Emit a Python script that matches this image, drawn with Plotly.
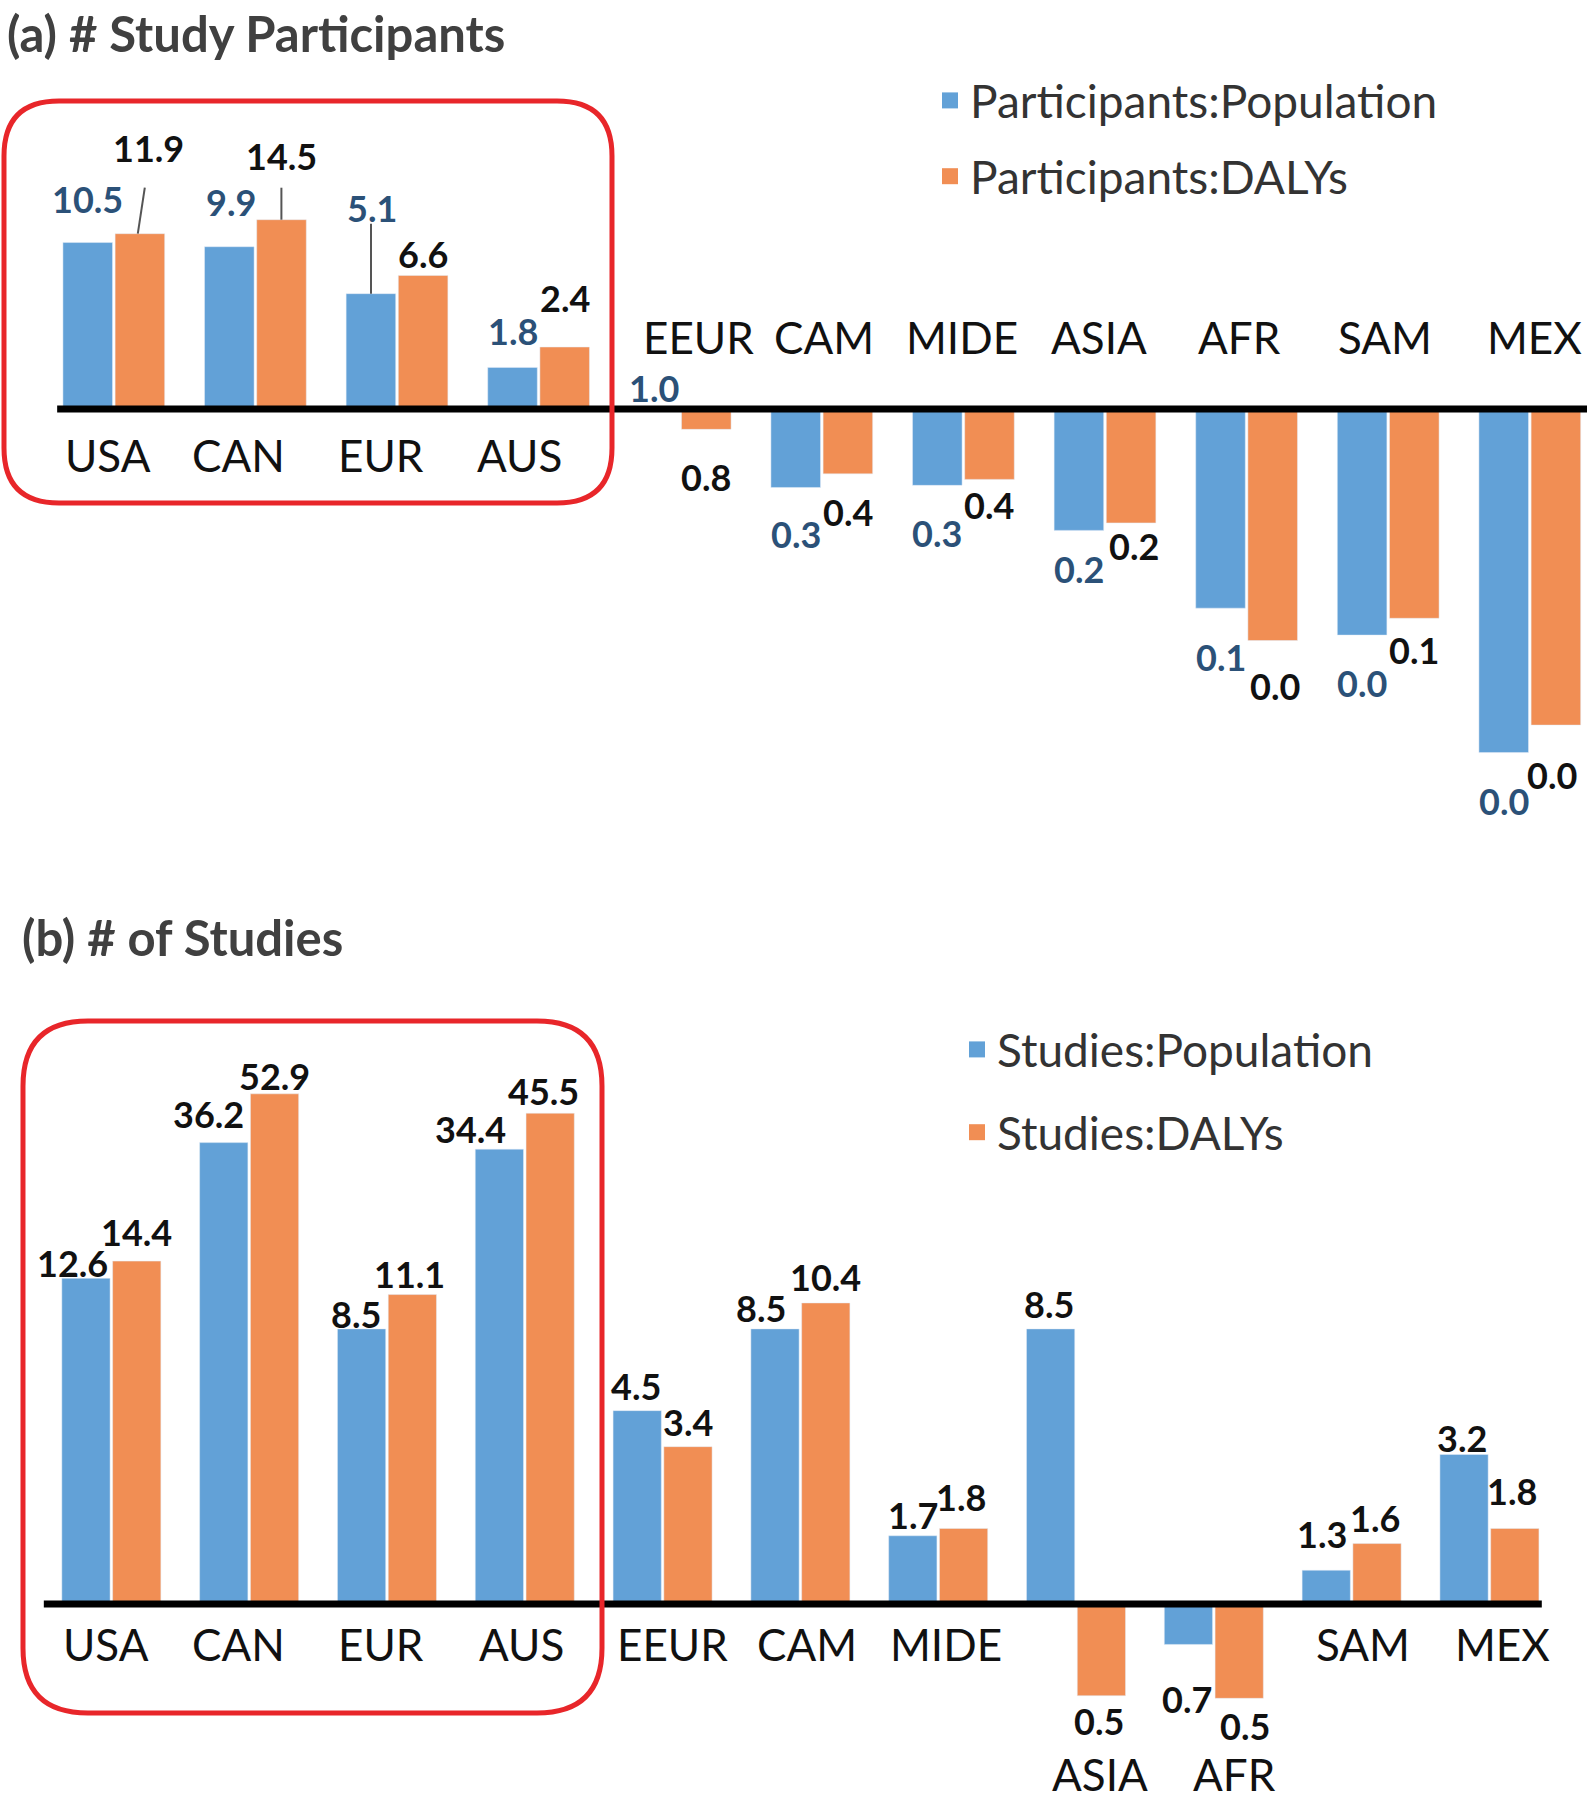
import math
import plotly.graph_objects as go

# ---------------- data ----------------
regions = ["USA", "CAN", "EUR", "AUS", "EEUR", "CAM", "MIDE", "ASIA", "AFR", "SAM", "MEX"]

participants_population = [10.5, 9.9, 5.1, 1.8, 1.0, 0.33, 0.34, 0.18, 0.06, 0.041, 0.0078]
participants_dalys = [11.9, 14.5, 6.6, 2.4, 0.75, 0.40, 0.37, 0.20, 0.038, 0.052, 0.0115]

studies_population = [12.6, 36.2, 8.5, 34.4, 4.5, 8.5, 1.7, 8.5, 0.73, 1.3, 3.2]
studies_dalys = [14.4, 52.9, 11.1, 45.5, 3.4, 10.4, 1.8, 0.49, 0.48, 1.6, 1.8]

# ---------------- style ----------------
W, H = 1587, 1800
BLUE = "#62A1D7"
ORANGE = "#F18E54"
BLUE_TXT = "#2B5178"
FONT = "Lato"

# label offsets (px) relative to bar end: (xshift, yshift)
off_a_pop = [(0, 44), (2, 45), (1, 86), (0, 36), (0, 21), (0, -47), (0, -48), (0, -39), (0, -49), (0, -48), (0, -48)]
off_a_daly = [(9, 86), (0, 64), (0, 21), (0, 49), (0, -48), (0, -38), (0, -26), (3, -23), (2, -45), (0, -32), (-4, -50)]
off_b_pop = [(-14, 15), (-16, 29), (-6, 15), (-29, 20), (-2, 25), (-14, 21), (0, 21), (-2, 25), (-2, -55), (-5, 36), (-2, 16)]
off_b_daly = [(0, 29), (0, 18), (-2, 21), (-6, 22), (0, 25), (0, 26), (-2, 31), (-2, -25), (6, -28), (-2, 26), (-2, 37)]

# category label offsets (px): (xshift, yshift)
cat_off_a = [(-6, -46), (-17, -46), (-16, -46), (-19, -46), (18, 72), (2, 72), (-1, 72), (-6, 72), (-7, 72), (-3, 72), (5, 72)]
cat_off_b = [(-5, -40), (-11, -40), (-6, -40), (-3, -40), (10, -40), (7, -40), (8, -40), (24, -170), (21, -170), (11, -40), (13, -40)]

BAR_OFF_A = 26
BAR_OFF_B = 25

fig = go.Figure()


def base_one(vals):
    return [v - 1 for v in vals]


fig.add_trace(go.Bar(x=regions, y=base_one(participants_population), base=[1] * len(regions),
                     name="Participants:Population", marker_color=BLUE, showlegend=False,
                     xaxis="x", yaxis="y", hoverinfo="skip"))
fig.add_trace(go.Bar(x=regions, y=base_one(participants_dalys), base=[1] * len(regions),
                     name="Participants:DALYs", marker_color=ORANGE, showlegend=False,
                     xaxis="x", yaxis="y", hoverinfo="skip"))
fig.add_trace(go.Bar(x=regions, y=base_one(studies_population), base=[1] * len(regions),
                     name="Studies:Population", marker_color=BLUE, showlegend=False,
                     xaxis="x2", yaxis="y2", hoverinfo="skip"))
fig.add_trace(go.Bar(x=regions, y=base_one(studies_dalys), base=[1] * len(regions),
                     name="Studies:DALYs", marker_color=ORANGE, showlegend=False,
                     xaxis="x2", yaxis="y2", hoverinfo="skip"))

# legend entries (square swatches)
for name, col, leg, grp, xa, ya in [
    ("Participants:Population", BLUE, "legend", "a1", "x", "y"),
    ("Participants:DALYs", ORANGE, "legend", "a2", "x", "y"),
    ("Studies:Population", BLUE, "legend2", "b1", "x2", "y2"),
    ("Studies:DALYs", ORANGE, "legend2", "b2", "x2", "y2"),
]:
    fig.add_trace(go.Scatter(x=[None], y=[None], mode="markers", name=name,
                             marker=dict(symbol="square", size=22, color=col),
                             legend=leg, legendgroup=grp, xaxis=xa, yaxis=ya, hoverinfo="skip"))

annotations = []


def value_labels(vals, offs, xref, yref, bar_off, color):
    for i, (v, (dx, dy)) in enumerate(zip(vals, offs)):
        annotations.append(dict(
            x=i, y=math.log10(v), xref=xref, yref=yref, text=f"{v:.1f}",
            showarrow=False, xshift=bar_off + dx, yshift=dy,
            font=dict(family=FONT, size=36, color=color, weight="bold"),
        ))


value_labels(participants_population, off_a_pop, "x", "y", -BAR_OFF_A, BLUE_TXT)
value_labels(participants_dalys, off_a_daly, "x", "y", BAR_OFF_A, "#111111")
value_labels(studies_population, off_b_pop, "x2", "y2", -BAR_OFF_B, "#111111")
value_labels(studies_dalys, off_b_daly, "x2", "y2", BAR_OFF_B, "#111111")

for i, r in enumerate(regions):
    annotations.append(dict(x=i, y=0, xref="x", yref="y", text=r, showarrow=False,
                            xshift=cat_off_a[i][0], yshift=cat_off_a[i][1],
                            font=dict(family=FONT, size=44, color="#111111")))
    annotations.append(dict(x=i, y=0, xref="x2", yref="y2", text=r, showarrow=False,
                            xshift=cat_off_b[i][0], yshift=cat_off_b[i][1],
                            font=dict(family=FONT, size=44, color="#111111")))

annotations.append(dict(x=5 / W, y=1 - 33 / H, xref="paper", yref="paper", xanchor="left", yanchor="middle",
                        text="(a) # Study Participants", showarrow=False,
                        font=dict(family=FONT, size=49, color="#404040", weight="bold")))
annotations.append(dict(x=20 / W, y=1 - 937 / H, xref="paper", yref="paper", xanchor="left", yanchor="middle",
                        text="(b) # of Studies", showarrow=False,
                        font=dict(family=FONT, size=49, color="#404040", weight="bold")))


def rounded_rect(x0, y0, x1, y1, r):
    def P(x, y):
        return f"{x / W:.5f},{1 - y / H:.5f}"
    return (f"M {P(x0 + r, y0)} L {P(x1 - r, y0)} Q {P(x1, y0)} {P(x1, y0 + r)} "
            f"L {P(x1, y1 - r)} Q {P(x1, y1)} {P(x1 - r, y1)} "
            f"L {P(x0 + r, y1)} Q {P(x0, y1)} {P(x0, y1 - r)} "
            f"L {P(x0, y0 + r)} Q {P(x0, y0)} {P(x0 + r, y0)} Z")


shapes = [
    dict(type="line", xref="x", yref="y", x0=-0.40, x1=10.6, y0=1, y1=1,
         line=dict(color="black", width=7)),
    dict(type="line", xref="x2", yref="y2", x0=-0.49, x1=10.38, y0=1, y1=1,
         line=dict(color="black", width=7)),
    dict(type="path", xref="paper", yref="paper", path=rounded_rect(4, 101, 612, 503, 55),
         line=dict(color="#E8262A", width=5)),
    dict(type="path", xref="paper", yref="paper", path=rounded_rect(23, 1021, 602, 1713, 65),
         line=dict(color="#E8262A", width=5)),
]


def leader(i, v, xref, yref, xoff, x0, y0, x1, y1):
    return dict(type="line", xref=xref, yref=yref, xsizemode="pixel", ysizemode="pixel",
                xanchor=i, yanchor=v, x0=xoff + x0, x1=xoff + x1, y0=y0, y1=y1,
                line=dict(color="#555555", width=2))


shapes.append(leader(0, participants_dalys[0], "x", "y", BAR_OFF_A, -2, 0, 5, 46))
shapes.append(leader(1, participants_dalys[1], "x", "y", BAR_OFF_A, 0, 0, 0, 32))
shapes.append(leader(2, participants_population[2], "x", "y", -BAR_OFF_A, 0, 0, 0, 70))
shapes.append(leader(8, studies_population[8], "x2", "y2", -BAR_OFF_B, 0, 0, 0, -24))

axis_common = dict(showgrid=False, zeroline=False, showline=False, showticklabels=False, ticks="")

fig.update_layout(
    width=W, height=H,
    margin=dict(l=0, r=0, t=0, b=0),
    paper_bgcolor="white", plot_bgcolor="white",
    barmode="group", bargap=0.263, bargroupgap=0.05,
    xaxis=dict(domain=[0, 1], range=[-0.8037, 10.404], anchor="y", type="category", **axis_common),
    yaxis=dict(domain=[1 - 870 / H, 1], type="log", range=[-2.8282, 2.5092], anchor="x", **axis_common),
    xaxis2=dict(domain=[0, 1], range=[-0.808, 10.708], anchor="y2", type="category", **axis_common),
    yaxis2=dict(domain=[0, 920 / H], type="log", range=[-0.6622, 2.4459], anchor="x2", **axis_common),
    legend=dict(x=930 / W, y=1 - 64 / H, xanchor="left", yanchor="top", bgcolor="rgba(0,0,0,0)",
                font=dict(family=FONT, size=46, color="#333333"), tracegroupgap=13,
                itemsizing="trace"),
    legend2=dict(x=957 / W, y=1 - 1013 / H, xanchor="left", yanchor="top", bgcolor="rgba(0,0,0,0)",
                 font=dict(family=FONT, size=46, color="#333333"), tracegroupgap=20,
                 itemsizing="trace"),
    annotations=annotations,
    shapes=shapes,
    showlegend=True,
)

fig.write_html("out.html", config={"displayModeBar": False},
               post_script="document.body.style.margin='0';")
